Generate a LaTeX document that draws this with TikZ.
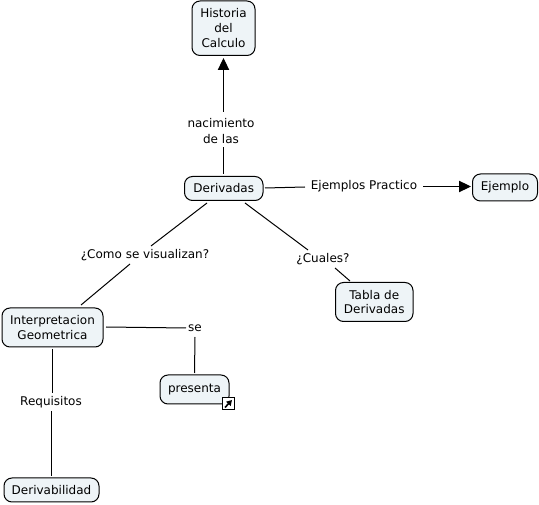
\documentclass[tikz,border=0pt]{standalone}
\usepackage{fontspec}
\setmainfont{DejaVu Sans}
\usetikzlibrary{arrows.meta}
\tikzset{
 concept/.style={draw=black,line width=0.75pt,rounded corners=6pt,fill=boxfill,align=center,font=\fontsize{9pt}{11.2pt}\selectfont,inner sep=0pt,anchor=north west},
 lab/.style={align=center,font=\fontsize{9pt}{11.6pt}\selectfont,inner sep=1pt},
 link/.style={line width=0.75pt,draw=black},
 arrowlink/.style={link,-{Triangle[length=9pt,width=8.5pt]}}
}
\definecolor{boxfill}{HTML}{EEF4F7}
\newcommand{\cbox}[6]{\node[concept,minimum width=#3*0.75pt,minimum height=#4*0.75pt] (#5) at (#1,#2) {#6};}
\begin{document}
\begin{tikzpicture}[x=0.75pt,y=-0.75pt]
\useasboundingbox (0,0) rectangle (539,505);
\cbox{191.5}{0.5}{63}{54.5}{hist}{Historia\\del\\Calculo}
\cbox{184}{176}{78.5}{24}{der}{Derivadas}
\cbox{472}{173.5}{65}{27}{ej}{Ejemplo}
\cbox{335}{282}{77.5}{39}{tab}{Tabla de\\Derivadas}
\cbox{1.5}{307.5}{101}{39}{int}{Interpretacion\\Geometrica}
\cbox{159.5}{374.5}{69}{29}{pres}{\raisebox{-1pt}{presenta}}
\cbox{3.5}{477.5}{95}{24}{dvb}{Derivabilidad}
\node[lab] (l1) at (221,131) {nacimiento\\de las};
\node[lab] (l2) at (364,186) {Ejemplos Practico};
\node[lab] (l3) at (145,255.5) {¿Como se visualizan?};
\node[lab] (l4) at (323,259) {¿Cuales?};
\node[lab] (l5) at (195,328.5) {se};
\node[lab] (l6) at (51,402.5) {Requisitos};
% free ends
\coordinate (a1) at (223.5,174);
\coordinate (a2) at (223.5,147);
\coordinate (a3) at (223.5,112);
\coordinate (a4) at (223.5,58);
\coordinate (b1) at (265,188);
\coordinate (b2) at (305,187);
\coordinate (b3) at (423,186.5);
\coordinate (b4) at (471,186.5);
\coordinate (c1) at (207,203);
\coordinate (c2) at (151,246);
\coordinate (c3) at (130,264);
\coordinate (c4) at (81,305);
\coordinate (d1) at (245,203);
\coordinate (d2) at (308,250);
\coordinate (d3) at (335,268);
\coordinate (d4) at (350,281);
\coordinate (e1) at (106,327);
\coordinate (e2) at (186,328);
\coordinate (e3) at (195,337);
\coordinate (e4) at (194.5,373);
\coordinate (f1) at (52.5,349);
\coordinate (f2) at (52.5,393);
\coordinate (f3) at (51.5,411);
\coordinate (f4) at (51.5,476);
\draw[link] (a1)--(a2);
\draw[arrowlink] (a3)--(a4);
\draw[link] (b1)--(b2);
\draw[arrowlink] (b3)--(b4);
\draw[link] (c1)--(c2);
\draw[link] (c3)--(c4);
\draw[link] (d1)--(d2);
\draw[link] (d3)--(d4);
\draw[link] (e1)--(e2);
\draw[link] (e3)--(e4);
\draw[link] (f1)--(f2);
\draw[link] (f3)--(f4);
% link icon
\node[draw=black,line width=0.9pt,fill=white,minimum width=9pt,minimum height=9pt,inner sep=0pt,anchor=center] (icon) at (228.5,403.3) {};
\coordinate (i1) at (225,407.5);
\coordinate (i2) at (232,400);
\draw[line width=1.2pt,-{Triangle[length=4pt,width=4.5pt]}] (i1)--(i2);
\end{tikzpicture}
\end{document}
